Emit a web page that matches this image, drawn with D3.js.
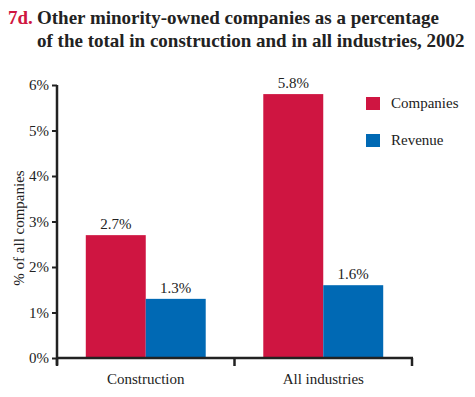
<!DOCTYPE html>
<html>
<head>
<meta charset="utf-8">
<script src="https://cdn.jsdelivr.net/npm/d3@7"></script>
<style>
  body { margin: 0; background: #fff; }
  svg text { font-family: "Liberation Serif", "Times New Roman", serif !important; }
</style>
</head>
<body>
<script>
// data
var categories = ["Construction", "All industries"];
var series = ["Companies", "Revenue"];
var companies = [2.7, 5.8];
var revenue = [1.3, 1.6];
var yTicks = [0, 1, 2, 3, 4, 5, 6];
var colors = ["#cf1541", "#0069b4"];

var W = 475, H = 397;
var svg = d3.select("body").append("svg")
    .attr("width", W)
    .attr("height", H);

// title
svg.append("text").attr("x", 8).attr("y", 24)
    .style("font-size", "19px").style("font-weight", "bold").attr("fill", "#cf1541")
    .text("7d.");
svg.append("text").attr("x", 37).attr("y", 24)
    .style("font-size", "19px").style("font-weight", "bold").attr("fill", "#222")
    .text("Other minority-owned companies as a percentage");
svg.append("text").attr("x", 37).attr("y", 47)
    .style("font-size", "19px").style("font-weight", "bold").attr("fill", "#222")
    .text("of the total in construction and in all industries, 2002");

var x0 = 57, x1 = 412, y0 = 358, y1 = 85;

var x = d3.scaleBand().domain(categories).range([x0, x1]).paddingInner(0).paddingOuter(0);
var xs = d3.scaleBand().domain(series).range([0, x.bandwidth()]).paddingInner(0).paddingOuter(0.48);
var y = d3.scaleLinear().domain([0, 6]).range([y0, y1]);

var rows = categories.map(function(c, i) {
  return { cat: c, vals: [companies[i], revenue[i]] };
});

// bars
var g = svg.append("g");
rows.forEach(function(r) {
  r.vals.forEach(function(v, j) {
    var bx = x(r.cat) + xs(series[j]);
    g.append("rect")
      .attr("x", bx).attr("width", xs.bandwidth())
      .attr("y", y(v)).attr("height", y(0) - y(v))
      .attr("fill", colors[j]);
    g.append("text")
      .attr("x", bx + xs.bandwidth() / 2).attr("y", y(v) - 6)
      .attr("text-anchor", "middle").style("font-size", "15px").attr("fill", "#222")
      .text(v.toFixed(1) + "%");
  });
});

// y axis
var yAxis = d3.axisLeft(y).tickValues(yTicks).tickSize(5).tickFormat(function(d) { return d + "%"; });
var ya = svg.append("g").attr("transform", "translate(" + x0 + ",0)").call(yAxis);
ya.select(".domain").attr("stroke", "#222").attr("stroke-width", 2.5).attr("d", "M0," + (y0 + 7) + "V" + y1);
ya.selectAll(".tick line").attr("stroke", "#222").attr("stroke-width", 2);
ya.selectAll(".tick text").style("font-size", "15px").attr("fill", "#222").attr("x", -8);

// x axis
var xa = svg.append("g").attr("transform", "translate(0," + y0 + ")");
xa.append("line").attr("x1", x0).attr("x2", x1 + 1).attr("y1", 0).attr("y2", 0)
  .attr("stroke", "#222").attr("stroke-width", 2.5);
[x0, x(categories[1]), x1].forEach(function(t) {
  xa.append("line").attr("x1", t).attr("x2", t).attr("y1", 0).attr("y2", 8)
    .attr("stroke", "#222").attr("stroke-width", 2.5);
});
categories.forEach(function(c) {
  xa.append("text").attr("x", x(c) + x.bandwidth() / 2).attr("y", 26)
    .attr("text-anchor", "middle").style("font-size", "15px").attr("fill", "#222").text(c);
});

// y label
svg.append("text")
  .attr("transform", "translate(24," + 228 + ") rotate(-90)")
  .attr("text-anchor", "middle").style("font-size", "15px").attr("fill", "#222")
  .text("% of all companies");

// legend
series.forEach(function(s, i) {
  var ly = 97 + i * 37;
  svg.append("rect").attr("x", 366).attr("y", ly).attr("width", 14).attr("height", 13).attr("fill", colors[i]);
  svg.append("text").attr("x", 391).attr("y", ly + 11).style("font-size", "15px").attr("fill", "#222").text(s);
});
</script>
</body>
</html>
